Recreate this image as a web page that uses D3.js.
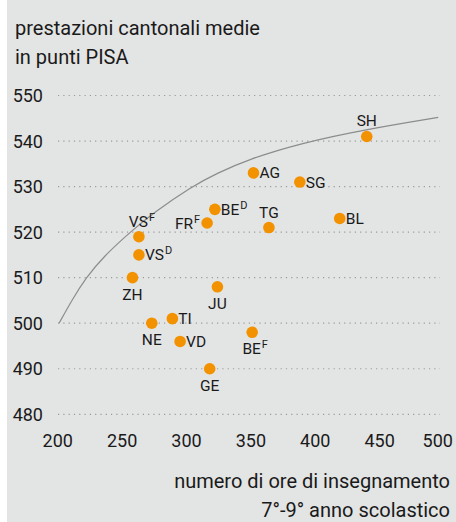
<!DOCTYPE html>
<html>
<head>
<meta charset="utf-8">
<script src="https://cdn.jsdelivr.net/npm/d3@7"></script>
<style>
  body { margin: 0; background: #fff; }
  svg { display: block; font-family: Roboto, sans-serif; }
</style>
</head>
<body>
<div id="chart"></div>
<script>
const width = 456;
const height = 522;

const bgColor = '#e3e4e4';
const dotColor = '#f39200';
const textColor = '#1a1a1a';

// cantons, hours of teaching (grade 7-9) vs mean PISA score
const cantons = ['SH', 'AG', 'SG', 'BE', 'FR', 'TG', 'BL', 'VS', 'VS', 'ZH', 'JU', 'TI', 'NE', 'VD', 'BE', 'GE'];
const superscripts = ['', '', '', 'D', 'F', '', '', 'F', 'D', '', '', '', '', '', 'F', ''];
const hours = [440, 352, 388, 322, 316, 364, 419, 263, 263, 258, 324, 289, 273, 295, 351, 318];
const scores = [541, 533, 531, 525, 522, 521, 523, 519, 515, 510, 508, 501, 500, 496, 498, 490];

// trend curve
const trendHours = [201, 211, 221.7, 235.3, 257.4, 274.2, 304, 323.4, 349.3, 388.2, 439.9, 495.5];
const trendScores = [500, 505.1, 509.9, 514.6, 520.3, 524.2, 530, 532.9, 536.1, 539.5, 542.6, 545.2];

const xTicks = [200, 250, 300, 350, 400, 450, 500];
const yTicks = [480, 490, 500, 510, 520, 530, 540, 550];

const titleLines = ['prestazioni cantonali medie', 'in punti PISA'];
const xTitleLines = ['numero di ore di insegnamento', '7°-9° anno scolastico'];

// where each label sits relative to its dot
const labelPos = ['above', 'right', 'right', 'right', 'left', 'above', 'right', 'above', 'right', 'below', 'below', 'right', 'below', 'right', 'below', 'below'];

const data = cantons.map((c, i) => ({
  name: c,
  sup: superscripts[i],
  hours: hours[i],
  score: scores[i],
  pos: labelPos[i],
}));

const svg = d3
  .select('#chart')
  .append('svg')
  .attr('width', width)
  .attr('height', height);

svg
  .append('rect')
  .attr('x', 7)
  .attr('y', 0)
  .attr('width', width - 7)
  .attr('height', height)
  .attr('fill', bgColor);

const xScale = d3.scaleLinear().domain([200, 500]).range([57.8, 444]);
const yScale = d3.scaleLinear().domain([480, 550]).range([414.3, 95.5]);

// title
svg
  .append('g')
  .selectAll('text')
  .data(titleLines)
  .enter()
  .append('text')
  .attr('x', 15)
  .attr('y', (d, i) => 35 + i * 29)
  .attr('font-size', 20)
  .attr('fill', textColor)
  .text((d) => d);

// grid lines
svg
  .append('g')
  .selectAll('line')
  .data(yTicks)
  .enter()
  .append('line')
  .attr('x1', 58)
  .attr('x2', 440)
  .attr('y1', (d) => yScale(d))
  .attr('y2', (d) => yScale(d))
  .attr('stroke', '#9a9a9a')
  .attr('stroke-width', 1.2)
  .attr('stroke-dasharray', '1.2 4.1');

// y tick labels
svg
  .append('g')
  .selectAll('text')
  .data(yTicks)
  .enter()
  .append('text')
  .attr('x', 43)
  .attr('y', (d) => yScale(d))
  .attr('dy', '0.36em')
  .attr('text-anchor', 'end')
  .attr('font-size', 18)
  .attr('fill', textColor)
  .text((d) => d);

// x tick labels
svg
  .append('g')
  .selectAll('text')
  .data(xTicks)
  .enter()
  .append('text')
  .attr('x', (d) => Math.min(xScale(d), 437.8))
  .attr('y', 447)
  .attr('text-anchor', 'middle')
  .attr('font-size', 18)
  .attr('fill', textColor)
  .text((d) => d);

// x axis title
svg
  .append('g')
  .selectAll('text')
  .data(xTitleLines)
  .enter()
  .append('text')
  .attr('x', 450)
  .attr('y', (d, i) => 488 + i * 29)
  .attr('text-anchor', 'end')
  .attr('font-size', 20)
  .attr('fill', textColor)
  .text((d) => d);

// trend curve
const trend = trendHours.map((h, i) => [h, trendScores[i]]);
svg
  .append('path')
  .datum(trend)
  .attr('fill', 'none')
  .attr('stroke', '#8c8c8c')
  .attr('stroke-width', 1.2)
  .attr(
    'd',
    d3
      .line()
      .x((d) => xScale(d[0]))
      .y((d) => yScale(d[1]))
      .curve(d3.curveBasis)
  );

// dots
svg
  .append('g')
  .selectAll('circle')
  .data(data)
  .enter()
  .append('circle')
  .attr('cx', (d) => xScale(d.hours))
  .attr('cy', (d) => yScale(d.score))
  .attr('r', 5.8)
  .attr('fill', dotColor);

// labels
const labels = svg
  .append('g')
  .selectAll('text')
  .data(data)
  .enter()
  .append('text')
  .attr('font-size', 15.5)
  .attr('fill', textColor)
  .attr('x', (d) => {
    const cx = xScale(d.hours);
    if (d.pos === 'right') return cx + 6;
    if (d.pos === 'left') return cx - 7;
    return cx + (d.sup ? 3 : 0);
  })
  .attr('y', (d) => {
    const cy = yScale(d.score);
    if (d.pos === 'above') return cy - 10;
    if (d.pos === 'below') return cy + 22;
    return cy + 5.5;
  })
  .attr('text-anchor', (d) => {
    if (d.pos === 'right') return 'start';
    if (d.pos === 'left') return 'end';
    return 'middle';
  });

labels.append('tspan').text((d) => d.name);
labels
  .filter((d) => d.sup)
  .append('tspan')
  .attr('font-size', 11)
  .attr('dx', 1)
  .attr('dy', -6)
  .text((d) => d.sup);
</script>
</body>
</html>
